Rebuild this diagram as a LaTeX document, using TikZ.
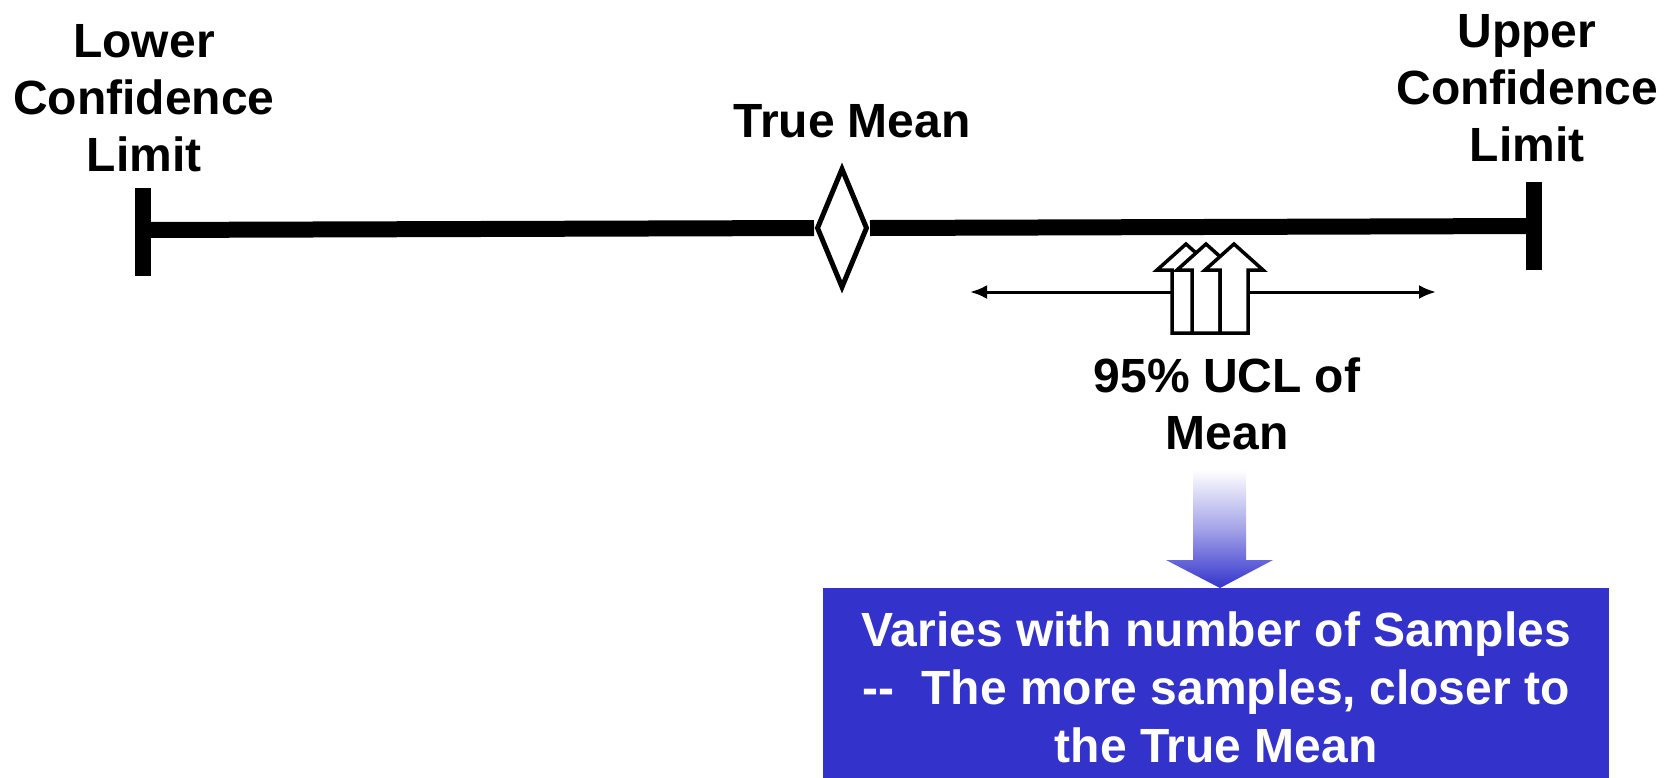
\documentclass[tikz,border=0pt]{standalone}
\usepackage{fontspec}
\setmainfont{Liberation Sans}
\usetikzlibrary{shapes.geometric,arrows.meta}
\definecolor{boxblue}{RGB}{51,51,204}
\begin{document}
\begin{tikzpicture}[x=1pt,y=-1pt,
  lbl/.style={align=center,inner sep=0pt,font=\fontsize{48}{57}\selectfont\bfseries},
  boxlbl/.style={align=center,inner sep=0pt,text=white,font=\fontsize{48}{58}\selectfont\bfseries},
  thick bar/.style={line width=16pt},
  blockarrow/.style={draw=black,fill=white,line width=3.5pt,line join=miter}]
\useasboundingbox (0,0) rectangle (1677,777);

% main interval
\coordinate (L) at (143,230);
\coordinate (R) at (1534,226);
\coordinate (Ltop) at (143,188);
\coordinate (Lbot) at (143,276);
\coordinate (Rtop) at (1534,182);
\coordinate (Rbot) at (1534,270);
\node[diamond,draw=black,fill=white,line width=5pt,minimum width=51pt,minimum height=120pt,inner sep=0pt] (D) at (842,228) {};
\draw[thick bar] (L) -- (D.west);
\draw[thick bar] (D.east) -- (R);
\draw[thick bar] (Ltop) -- (Lbot);
\draw[thick bar] (Rtop) -- (Rbot);

% labels
\node[lbl] (lower) at (144,98) {Lower\\Confidence\\Limit};
\node[lbl] (upper) at (1527,88) {Upper\\Confidence\\Limit};
\node[lbl] (truemean) at (852,121) {True Mean};
\node[lbl] (ucl) at (1227,404) {95\% UCL of\\Mean};

% range arrow
\coordinate (rA) at (970,292);
\coordinate (rB) at (1436,292);
\draw[line width=3pt,{Latex[length=17pt,width=14pt]}-{Latex[length=17pt,width=14pt]}] (rA) -- (rB);

% block arrows
\foreach \tx in {1186,1206,1234}{
  \path[blockarrow] (\tx,244) -- (\tx+29,270) -- (\tx+14,270) -- (\tx+14,333)
     -- (\tx-14,333) -- (\tx-14,270) -- (\tx-29,270) -- cycle;
}

% gradient arrow
\shade[top color=white,bottom color=boxblue,middle color=boxblue!45]
  (1193,470) -- (1246,470) -- (1246,560) -- (1273,560) -- (1220,588)
  -- (1166,560) -- (1193,560) -- cycle;

% box
\node[boxlbl,fill=boxblue,minimum width=786pt,minimum height=198pt,anchor=north west] (box) at (823,588) {};
\node[boxlbl] (boxtext) at (box.center) {Varies with number of Samples\\-{}-\ \ The more samples, closer to\\the True Mean};
\end{tikzpicture}
\end{document}
